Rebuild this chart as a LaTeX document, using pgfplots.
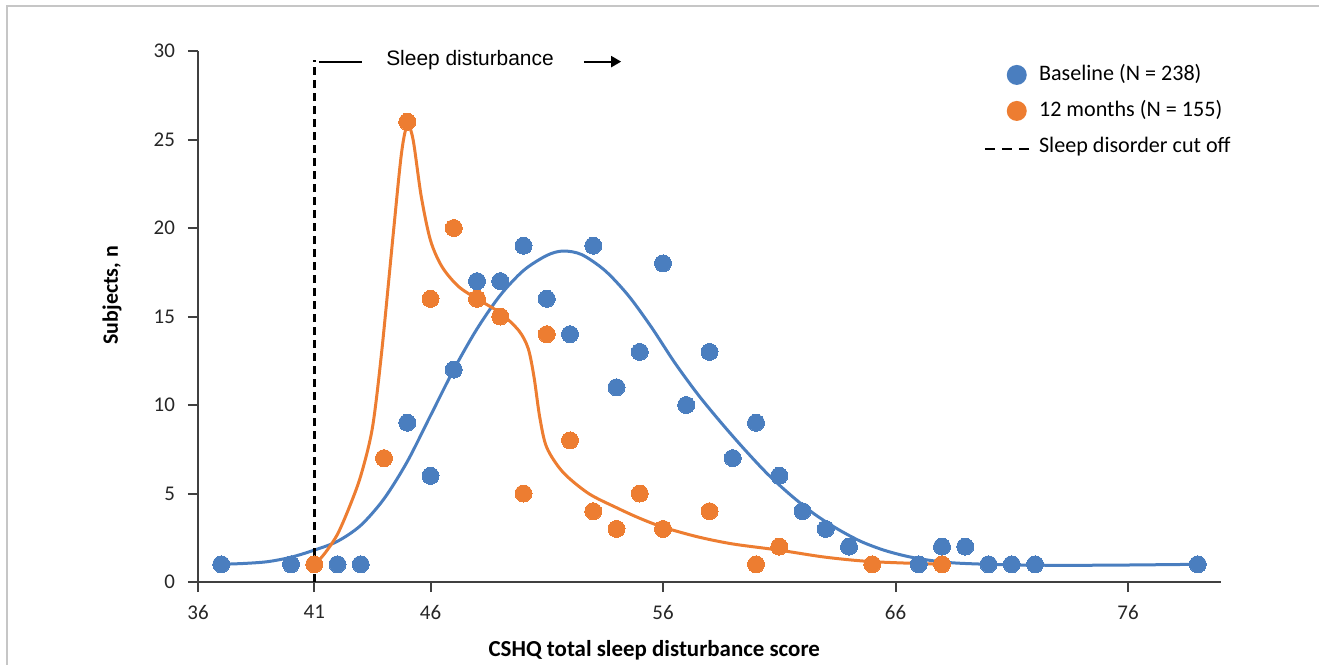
\documentclass[border=0pt]{standalone}
\usepackage{fontspec}
\setmainfont{Carlito}
\newfontfamily\arialfont{Liberation Sans}
\usepackage{pgfplots}
\usepackage{pgfplotstable}
\pgfplotsset{compat=1.18}
\usetikzlibrary{arrows.meta}
\definecolor{cblue}{HTML}{4A7EBF}
\definecolor{corange}{HTML}{ED7D31}
\definecolor{axgray}{HTML}{404040}

\pgfplotstableread{
x y
37 1
40 1
42 1
43 1
45 9
46 6
47 12
48 17
49 17
50 19
51 16
52 14
53 19
54 11
55 13
56 18
57 10
58 13
59 7
60 9
61 6
62 4
63 3
64 2
67 1
68 2
69 2
70 1
71 1
72 1
79 1
}\baselinepts

\pgfplotstableread{
x y
41 1
44 7
45 26
46 16
47 20
48 16
49 15
50 5
51 14
52 8
53 4
54 3
55 5
56 3
58 4
60 1
61 2
65 1
68 1
}\monthpts

\pgfplotstableread{
x y
37 1.0
38 1.05
39 1.15
40 1.4
41 1.8
42 2.3
43 3.2
44 4.7
45 6.8
46 9.4
47 12.0
48 14.3
49 16.2
50 17.6
51 18.45
51.7 18.7
52.5 18.5
53.5 17.6
54.5 16.2
55.5 14.4
56.5 12.4
57.5 10.6
58.5 9.0
59.5 7.5
60.5 6.1
61.5 4.9
62.5 3.85
63.5 3.0
64.5 2.3
65.5 1.8
66.5 1.45
67.5 1.22
68.5 1.08
70 1.0
72 0.95
75 0.95
79 1.0
}\baselinefit

\pgfplotstableread{
x y
41.05 1.0
41.5 1.7
42 2.7
42.5 4.2
43 6.0
43.5 8.7
43.9 13.0
44.4 19.7
44.75 24.2
45 25.8
45.25 25.0
45.6 21.8
46 19.3
46.5 17.8
47.2 16.7
48 16.0
49 15.2
49.8 14.2
50.2 13.2
50.45 11.6
50.7 9.3
51 7.6
51.7 6.2
52.8 5.0
54 4.2
55 3.6
56 3.1
57.5 2.55
59 2.15
61 1.8
63 1.4
65 1.15
68 1.0
}\monthfit

\begin{document}
\begin{tikzpicture}[x=1bp,y=1bp]
\useasboundingbox (-99,-41) rectangle (560.5,291);
\draw[gray!45, line width=1bp] (-95.5,-60) -- (-95.5,288) -- (570,288);
\begin{axis}[
  at={(0,0)}, anchor=south west,
  scale only axis, width=511.5bp, height=265.5bp,
  xmin=36, xmax=80, ymin=0, ymax=30,
  axis lines=left,
  axis line style={axgray, line width=1bp, -},
  xtick={36,41,46,56,66,76}, ytick={0,5,10,15,20,25,30},
  tick align=outside, major tick length=5bp,
  tick style={axgray, line width=1bp},
  /pgf/number format/assume math mode=true,
  ticklabel style={font=\fontsize{10.5}{12}\selectfont, text=black!85},
  xticklabel style={yshift=-3bp},
  yticklabel style={xshift=-3bp},
  xlabel={\textbf{CSHQ total sleep disturbance score}},
  ylabel={\textbf{Subjects, n}},
  every axis x label/.style={at={(axis description cs:0.446,-0.129)}, anchor=center, font=\fontsize{11.5}{13}\selectfont},
  every axis y label/.style={at={(axis description cs:-0.084,0.54)}, anchor=center, rotate=90, font=\fontsize{11}{13}\selectfont},
  clip=false,
  legend style={at={(rel axis cs:0.7674,0.9745)}, anchor=north west, draw=none, fill=none,
    inner xsep=0pt, inner ysep=0pt,
    font=\fontsize{11.1}{13}\selectfont,
    nodes={inner sep=0pt, text height=8bp, text depth=2bp},
    row sep=8bp,
    /tikz/every odd column/.append style={column sep=3bp}},
  legend cell align=left,
]
\addplot[cblue, line width=1.5bp, smooth, forget plot] table {\baselinefit};
\addplot[corange, line width=1.5bp, smooth, forget plot] table {\monthfit};
\addplot[black, line width=1.3bp, dash pattern=on 4bp off 2.5bp, forget plot] coordinates {(41,0) (41,29.5)};
\addplot[only marks, mark=*, mark size=4.25bp, cblue, mark options={draw=cblue, fill=cblue, line width=0pt}, forget plot] table {\baselinepts};
\addplot[only marks, mark=*, mark size=4.25bp, corange, mark options={draw=corange, fill=corange, line width=0pt}, forget plot] table {\monthpts};

\addlegendimage{legend image code/.code={\path[draw=none,fill=none] (0bp,-5bp) rectangle (23.5bp,5bp); \fill[draw=none, fill=cblue, overlay] (16bp,0bp) circle (5bp);}}
\addlegendentry{Baseline (N = 238)}
\addlegendimage{legend image code/.code={\path[draw=none,fill=none] (0bp,-5bp) rectangle (23.5bp,5bp); \fill[draw=none, fill=corange, overlay] (16bp,0bp) circle (5bp);}}
\addlegendentry{12 months (N = 155)}
\addlegendimage{legend image code/.code={\path[draw=none,fill=none] (0bp,-5bp) rectangle (23.5bp,5bp); \draw[draw=black, fill=none, line width=1.3bp, dash pattern=on 5bp off 3.5bp] (0bp,-1bp) -- (23.5bp,-1bp);}}
\addlegendentry{Sleep disorder cut off}

\draw[black, line width=1bp] (axis cs:41.2,29.4) -- (axis cs:43.05,29.4);
\node[font=\arialfont\fontsize{10.5}{12}\selectfont] at (axis cs:47.7,29.5) {Sleep disturbance};
\draw[-{Triangle[length=5bp,width=5.5bp]}, line width=1bp] (axis cs:52.6,29.4) -- (axis cs:54.2,29.4);
\end{axis}
\end{tikzpicture}
\end{document}
